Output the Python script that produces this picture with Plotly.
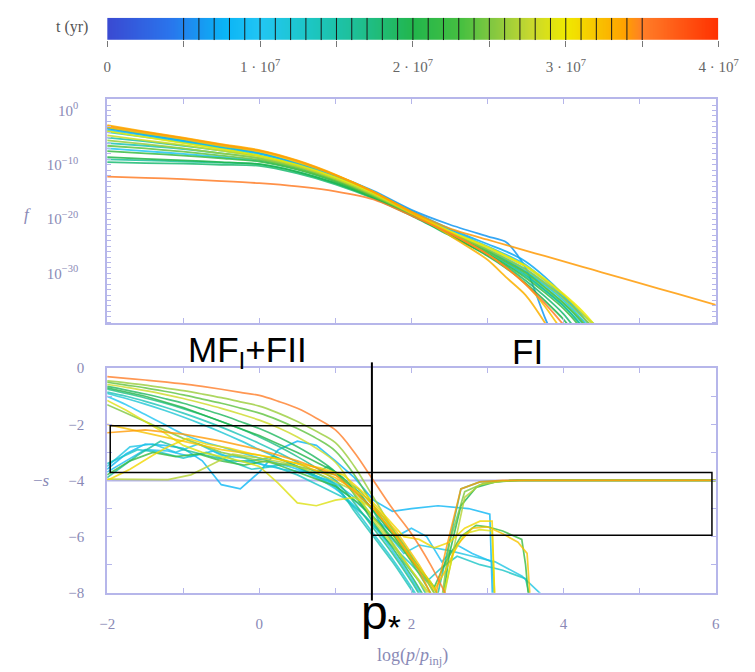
import numpy as np
import plotly.graph_objects as go
from plotly.colors import sample_colorscale

W, H = 755, 672

# ---------------------------------------------------------------- data
# snapshot times (Myr) marked on the time colour bar
SNAPSHOT_MYR = [5, 6, 7, 8, 9, 10, 11, 12, 13, 14, 15, 16, 17, 18, 19, 20,
                21, 22, 23, 24, 25, 26, 27, 28, 29, 30, 31, 32, 33, 34, 35]
T_MAX_MYR = 40
CBAR_TICKS_MYR = [0, 5, 10, 15, 20, 25, 30, 35, 40]
CBAR_LABELS = ["0", "", "1 · 10<sup>7</sup>", "", "2 · 10<sup>7</sup>", "",
               "3 · 10<sup>7</sup>", "", "4 · 10<sup>7</sup>"]

# distribution function: log10 f on a common momentum grid log(p/p_inj)
F_X = [-2, -1.5, -1, -0.5, 0, 0.5, 1, 1.5, 2, 2.5, 3, 3.25, 3.5, 3.75, 4, 4.25, 4.5, 5, 5.5, 6]
F_T = [6, 7, 9, 10, 12, 14, 15, 16, 18, 20, 22, 24, 26, 28, 30, 32, 33, 34, 35]
F_LOG = [
    [-3.3, -4.5, -5.6, -6.7, -7.9, -9.8, -12.0, -14.8, -18.3, -21.0, -23.2, -24.3, -29.0, -38.0, -46, None, None, None, None, None],
    [-3.2, -4.3, -5.4, -6.6, -7.8, -9.7, -12.0, -15.0, -18.5, -21.8, -24.6, -26.0, -27.8, -30.6, -34.0, -38.0, -42, None, None, None],
    [-3.6, -4.6, -5.7, -6.8, -8.0, -9.9, -12.2, -15.2, -18.8, -22.0, -25.0, -26.6, -28.4, -31.2, -34.4, -37.5, -40.5, None, None, None],
    [-7.0, -7.5, -8.0, -8.6, -9.3, -10.8, -13.0, -15.8, -19.1, -22.5, -25.6, -27.3, -29.2, -31.7, -34.5, -38.0, -42, None, None, None],
    [-4.0, -4.9, -5.9, -7.0, -8.3, -10.2, -12.6, -15.5, -19.0, -22.5, -25.8, -27.6, -29.6, -32.1, -35.0, -38.6, -43, None, None, None],
    [-6.0, -6.5, -7.1, -7.9, -8.8, -10.5, -12.8, -15.7, -19.1, -22.8, -26.3, -28.3, -30.5, -33.1, -36.0, -39.8, -45, None, None, None],
    [-5.0, -5.7, -6.5, -7.4, -8.4, -10.2, -12.6, -15.5, -18.9, -22.4, -25.8, -27.7, -29.8, -32.5, -35.5, -39.2, -44, None, None, None],
    [-9.0, -9.2, -9.4, -9.6, -9.9, -11.3, -13.4, -16.0, -19.2, -22.7, -26.0, -28.0, -30.2, -33.0, -36.0, -40.0, -45, None, None, None],
    [-9.5, -9.7, -9.8, -10.0, -10.2, -11.6, -13.6, -16.2, -19.4, -23.0, -26.6, -28.8, -31.3, -34.2, -37.5, -42, None, None, None, None],
    [-8.6, -8.9, -9.2, -9.5, -9.9, -11.3, -13.4, -16.1, -19.3, -22.9, -26.8, -29.1, -31.8, -35.0, -38.5, -43, None, None, None, None],
    [-7.5, -7.9, -8.3, -8.8, -9.4, -10.9, -13.1, -15.9, -19.2, -22.8, -26.4, -28.5, -30.8, -33.5, -36.5, -40.5, -46, None, None, None],
    [-6.5, -7.0, -7.6, -8.3, -9.1, -10.7, -12.9, -15.8, -19.1, -22.6, -26.0, -27.9, -29.9, -32.6, -35.5, -39.0, -44, None, None, None],
    [-5.5, -6.2, -7.0, -7.9, -8.8, -10.4, -12.7, -15.6, -19.0, -22.5, -25.6, -27.4, -29.3, -31.8, -34.6, -38.0, -42, None, None, None],
    [-4.6, -5.5, -6.4, -7.4, -8.5, -10.2, -12.5, -15.4, -18.9, -22.3, -25.3, -27.0, -28.8, -31.3, -34.0, -37.4, -41.5, None, None, None],
    [-3.8, -4.9, -6.0, -7.1, -8.3, -10.0, -12.3, -15.2, -18.8, -22.2, -25.1, -26.8, -28.6, -31.0, -33.8, -37.0, -41, None, None, None],
    [-3.1, -4.2, -5.3, -6.5, -7.6, -9.5, -11.9, -15.0, -18.7, -22.5, -26.5, -29.0, -32.0, -36.0, -41.0, -46, None, None, None, None],
    [-2.7, -3.9, -5.0, -6.2, -7.3, -9.2, -11.8, -15.0, -18.9, -23.0, -27.5, -30.8, -34.0, -39.0, -45, None, None, None, None, None],
    [-2.9, -4.0, -5.1, -6.3, -7.4, -9.3, -11.9, -15.0, -18.6, -21.7, -23.8, -24.8, -25.8, -26.8, -27.8, -28.8, -29.8, -31.8, -33.8, -35.8],
    [-12.2, -12.4, -12.65, -13.0, -13.4, -14.0, -14.9, -16.4, -19.4, -22.6, -26.5, -29.0, -32.0, -35.5, -39.5, -44, None, None, None, None],
]

# local slope -s, smoothly varying snapshots on a common grid
S_X = [-2, -1.75, -1.5, -1.25, -1, -0.75, -0.5, -0.25, 0, 0.25, 0.5, 0.75, 1, 1.25, 1.5, 1.75, 2, 2.25, 2.5, 2.75]
S_T = [10, 12, 14, 17, 19, 24, 26, 28, 35]
S_VAL = [
    [-1.0, -1.3, -1.65, -2.0, -2.35, -2.6, -2.8, -3.0, -3.2, -3.4, -3.6, -3.9, -4.3, -4.9, -5.6, -6.5, -7.5, -8.6, None, None],
    [-0.9, -1.08, -1.28, -1.5, -1.74, -2.0, -2.28, -2.58, -2.9, -3.2, -3.5, -3.85, -4.25, -5.0, -5.9, -6.8, -7.8, -8.9, None, None],
    [-0.85, -1.0, -1.18, -1.38, -1.6, -1.84, -2.1, -2.38, -2.68, -3.0, -3.35, -3.72, -4.15, -5.1, -6.0, -6.9, -7.9, -8.9, None, None],
    [-0.75, -0.9, -1.06, -1.24, -1.44, -1.66, -1.9, -2.16, -2.45, -2.78, -3.15, -3.55, -4.0, -4.8, -5.7, -6.6, -7.6, -8.7, -9.6, None],
    [-0.65, -0.78, -0.92, -1.08, -1.25, -1.45, -1.66, -1.9, -2.15, -2.45, -2.8, -3.2, -3.7, -4.5, -5.5, -6.4, -7.4, -8.5, -9.5, None],
    [-0.5, -0.6, -0.7, -0.82, -0.95, -1.1, -1.25, -1.42, -1.6, -1.85, -2.15, -2.5, -2.95, -3.8, -4.9, -5.9, -6.9, -8.0, -9.2, None],
    [-0.45, -0.52, -0.6, -0.7, -0.8, -0.92, -1.05, -1.2, -1.35, -1.6, -1.9, -2.25, -2.65, -3.5, -4.6, -5.7, -6.7, -7.8, -9.0, None],
    [-0.58, -0.68, -0.8, -0.93, -1.08, -1.25, -1.43, -1.63, -1.85, -2.12, -2.45, -2.85, -3.35, -4.3, -5.4, -6.3, -7.2, -8.2, -9.3, None],
    [-0.3, -0.36, -0.42, -0.49, -0.56, -0.65, -0.75, -0.86, -0.97, -1.18, -1.43, -1.78, -2.2, -3.0, -4.0, -5.0, -5.9, -7.0, -8.3, -9.5],
]

# local slope -s, noisy snapshots (each with its own sampling)
N_T = [8, 9, 11, 13, 16, 20, 22, 25, 27, 29, 31, 32, 34]
N_X = [
    [-2, -1.75, -1.5, -1.25, -1, -0.75, -0.5, -0.25, 0, 0.25, 0.5, 0.75, 1, 1.25, 1.5, 1.75, 2, 2.35, 2.75, 3.03, 3.07],
    [-2, -1.75, -1.5, -1.2, -0.9, -0.6, -0.3, 0, 0.3, 0.6, 0.9, 1.2, 1.5, 1.8, 2.0, 2.2, 2.4, 2.6, 2.8, 3.06, 3.1],
    [-2, -1.7, -1.4, -1.1, -0.8, -0.5, -0.2, 0.1, 0.4, 0.7, 1.0, 1.3, 1.6, 1.9, 2.1, 2.3, 2.5, 2.8, 3.1, 3.45, 3.8],
    [-2, -1.6, -1.3, -1.0, -0.7, -0.4, -0.1, 0.2, 0.5, 0.8, 1.1, 1.4, 1.7, 2.0, 2.2, 2.4, 2.6, 2.9, 3.2, 3.5, 3.6],
    [-2, -1.6, -1.3, -1.0, -0.7, -0.4, -0.1, 0.2, 0.5, 0.7, 0.9, 1.1, 1.3, 1.5, 1.7, 1.9, 2.1, 2.3, 2.45, 2.65, 2.9, 3.3, 4.0, 6.0],
    [-2, -1.5, -1.0, -0.5, 0, 0.5, 1.0, 1.3, 1.6, 1.9, 2.1, 2.3, 2.4, 2.5, 2.65, 2.85, 3.1, 3.4, 6.0],
    [-2, -1.7, -1.4, -1.1, -0.8, -0.5, -0.2, 0.1, 0.4, 0.7, 1.0, 1.3, 1.6, 1.9, 2.1, 2.3, 2.45, 2.65, 2.85, 3.0, 3.2, 3.45, 3.5, 3.55],
    [-2, -1.5, -1, -0.5, 0, 0.5, 1, 1.3, 1.6, 1.9, 2.1, 2.3, 2.38, 2.5, 2.7, 2.95, 3.3, 6.0],
    [-2, -1.5, -1.2, -0.9, -0.68, -0.35, 0, 0.3, 0.6, 0.9, 1.2, 1.5, 1.8, 2.0, 2.2, 2.4, 2.55, 2.7, 2.9, 3.2, 3.5, 4.0, 6.0],
    [-2, -1.75, -1.5, -1.25, -1, -0.75, -0.5, -0.25, 0, 0.25, 0.5, 0.75, 1, 1.25, 1.5, 1.75, 2, 2.25, 2.4, 2.55, 2.7, 2.9, 3.06, 3.1],
    [-2, -1.7, -1.4, -1.2, -0.95, -0.7, -0.4, -0.1, 0.2, 0.5, 0.8, 1.1, 1.4, 1.7, 1.9, 2.1, 2.3, 2.5, 2.7, 2.9, 3.06, 3.1],
    [-2, -1.5, -1.0, -0.5, 0, 0.5, 1.0, 1.4, 1.8, 2.1, 2.3, 2.45, 2.6, 2.8, 3.0, 3.2, 3.4, 3.52, 3.57],
    [-2, -1.5, -1, -0.5, 0, 0.5, 1.0, 1.5, 1.8, 2.1, 2.3, 2.45, 2.65, 2.9, 3.2, 6.0],
]
N_VAL = [
    [-3.6, -3.05, -2.7, -2.75, -2.85, -3.3, -4.15, -4.3, -3.7, -2.9, -2.6, -2.75, -3.3, -3.9, -4.7, -5.1, -5.0, -4.9, -5.0, -5.2, -8.6],
    [-3.7, -3.3, -2.9, -2.95, -3.15, -2.95, -3.3, -3.4, -3.6, -3.7, -4.0, -4.6, -5.3, -6.0, -5.7, -6.0, -6.9, -6.3, -6.6, -6.9, -8.6],
    [-3.5, -2.8, -2.7, -3.0, -2.7, -3.1, -3.2, -3.5, -3.4, -3.8, -4.1, -4.7, -5.6, -6.6, -6.3, -6.4, -6.5, -6.7, -6.9, -7.4, -8.3],
    [-3.4, -2.9, -3.0, -3.2, -3.0, -3.3, -3.6, -3.5, -3.8, -4.2, -4.6, -5.3, -6.2, -7.0, -7.6, -7.1, -6.7, -7.0, -7.2, -7.5, -8.6],
    [-3.9, -3.1, -2.6, -2.9, -3.1, -3.3, -3.3, -3.15, -3.5, -3.8, -3.5, -3.9, -4.5, -5.1, -6.0, -6.9, -7.6, -8.6, -6.8, -4.3, -4.05, -4.0, -4.0, -4.0],
    [-0.7, -1.0, -1.4, -1.9, -2.4, -3.0, -3.7, -4.4, -5.4, -6.4, -7.1, -7.8, -8.5, -6.6, -4.9, -4.25, -4.05, -4.0, -4.0],
    [-3.8, -3.3, -3.0, -3.15, -3.05, -3.3, -3.45, -3.3, -3.6, -3.9, -4.2, -4.8, -5.6, -6.5, -7.2, -7.8, -6.9, -6.0, -5.6, -5.65, -5.8, -6.1, -7.0, -8.5],
    [-1.3, -1.9, -2.5, -3.0, -3.3, -3.5, -3.8, -4.3, -5.2, -6.3, -7.1, -8.0, -8.6, -6.2, -4.4, -4.1, -4.0, -4.0],
    [-3.95, -3.96, -3.97, -3.8, -3.5, -3.06, -3.2, -3.35, -3.6, -3.9, -4.3, -5.3, -6.4, -7.2, -7.9, -8.5, -6.5, -4.6, -4.15, -4.02, -4.0, -4.0, -4.0],
    [-1.15, -1.5, -1.9, -2.3, -2.75, -3.0, -3.15, -3.3, -3.5, -4.1, -4.8, -4.9, -4.7, -4.6, -5.0, -5.8, -6.8, -7.6, -8.3, -6.6, -5.9, -5.75, -5.8, -8.6],
    [-4.0, -3.6, -3.1, -2.8, -2.5, -2.7, -2.85, -3.05, -3.2, -3.4, -3.55, -3.8, -4.5, -5.4, -6.0, -6.1, -6.4, -6.2, -5.7, -5.45, -5.45, -8.6],
    [-2.0, -2.3, -2.6, -2.9, -3.1, -3.4, -3.9, -4.6, -5.8, -7.0, -7.9, -7.2, -6.3, -5.7, -5.65, -5.9, -6.2, -6.6, -8.6],
    [-2.3, -2.2, -2.35, -2.6, -2.9, -3.3, -3.8, -5.0, -6.0, -7.2, -8.3, -6.5, -4.3, -4.05, -4.0, -4.0],
]

# -s = -4 reference slope
REF_SLOPE = -4

# ---------------------------------------------------------------- style
TIME_SCALE = [
    [0.00, "#3a4ad2"], [0.10, "#2a74ec"], [0.19, "#0ab4f6"], [0.25, "#22c6f4"],
    [0.33, "#1cc6c4"], [0.40, "#1ec09a"], [0.50, "#22b64c"], [0.58, "#48c040"],
    [0.63, "#84c840"], [0.69, "#c6d830"], [0.75, "#f0ea00"], [0.80, "#f8c400"],
    [0.845, "#ffa200"], [0.875, "#ff7e28"], [1.00, "#ff3000"],
]
AXIS = "#b6b6ea"
TICKTXT = "#8a8ab6"
SERIF = "Liberation Serif, DejaVu Serif, serif"
SANS = "Liberation Sans, Arial, sans-serif"


def tcolor(t_myr):
    return sample_colorscale(TIME_SCALE, [t_myr / T_MAX_MYR])[0]


fig = go.Figure()

# time colour bar (gradient plus snapshot markers)
n_cells = 400
dx = T_MAX_MYR * 1e6 / n_cells
grad = np.linspace(dx / 2, T_MAX_MYR * 1e6 - dx / 2, n_cells)
fig.add_trace(go.Heatmap(
    x=grad, y=[0.5], z=[grad / 1e6], colorscale=TIME_SCALE, zmin=0, zmax=T_MAX_MYR,
    showscale=False, xaxis="x3", yaxis="y3", hoverinfo="skip", zsmooth="best"))
mx, my = [], []
for t in SNAPSHOT_MYR:
    mx += [t * 1e6, t * 1e6, None]
    my += [0, 1, None]
fig.add_trace(go.Scatter(x=mx, y=my, mode="lines", line=dict(color="#1a1a1a", width=1),
                         xaxis="x3", yaxis="y3", hoverinfo="skip"))

# upper panel: f(p)
for t, vals in zip(F_T, F_LOG):
    fig.add_trace(go.Scatter(
        x=F_X, y=[None if v is None else 10.0 ** v for v in vals], mode="lines",
        line=dict(color=tcolor(t), width=1.8, shape="spline", smoothing=0.7),
        opacity=0.85, xaxis="x", yaxis="y", hoverinfo="skip"))

# lower panel: -s(p)
fig.add_trace(go.Scatter(x=[-2, 6], y=[REF_SLOPE, REF_SLOPE], mode="lines",
                         line=dict(color=AXIS, width=2), xaxis="x2", yaxis="y2",
                         hoverinfo="skip"))
curves = [(t, S_X, v, "spline") for t, v in zip(S_T, S_VAL)]
curves += [(t, x, v, "linear") for t, x, v in zip(N_T, N_X, N_VAL)]
curves.sort(key=lambda c: c[0])
for t, xs, vs, shp in curves:
    fig.add_trace(go.Scatter(
        x=xs, y=vs, mode="lines",
        line=dict(color=tcolor(t), width=1.7, shape=shp),
        opacity=0.8, xaxis="x2", yaxis="y2", hoverinfo="skip"))

# ---------------------------------------------------------------- axes
xdom = [103 / W, 735 / W]
top_dom = [1 - 323 / H, 1 - 93 / H]
bot_dom = [1 - 599 / H, 1 - 369 / H]
cb_dom = [1 - 33 / H, 1 - 10 / H]

common = dict(showline=True, linecolor=AXIS, linewidth=2, mirror="ticks",
              ticks="inside", tickcolor=AXIS, tickwidth=1, showgrid=False,
              zeroline=False, tickfont=dict(family=SERIF, size=15, color=TICKTXT))

xticks = [-2, -1, 0, 1, 2, 3, 4, 5, 6]
xtext = ["\u22122", "", "0", "", "2", "", "4", "", "6"]
decades = list(range(2, -40, -1))
ytext_top = [("10<sup>%s</sup>" % (str(d).replace("-", "\u2212")) if d % 10 == 0 else "")
             for d in decades]

fig.update_layout(
    width=W, height=H, margin=dict(l=0, r=0, t=0, b=0),
    paper_bgcolor="white", plot_bgcolor="white", showlegend=False,
    xaxis=dict(domain=xdom, range=[-2, 6], anchor="y", tickvals=xticks,
               showticklabels=False, ticklen=5, **common),
    yaxis=dict(domain=top_dom, type="log", range=[-39.2, 2.15], anchor="x",
               tickmode="array", tickvals=[10.0 ** d for d in decades], ticktext=ytext_top,
               ticklen=4, ticklabelstandoff=24, **common),
    xaxis2=dict(domain=xdom, range=[-2, 6], anchor="y2", tickvals=xticks, ticktext=xtext,
                ticklen=5, ticklabelstandoff=16, **common),
    yaxis2=dict(domain=bot_dom, range=[-8, 0], anchor="x2",
                tickvals=[-8, -7, -6, -5, -4, -3, -2, -1, 0],
                ticktext=["\u22128", "", "\u22126", "", "\u22124", "", "\u22122", "", "0"],
                ticklen=5, ticklabelstandoff=18, **common),
    xaxis3=dict(domain=[103 / W, 738 / W], range=[0, T_MAX_MYR * 1e6], anchor="y3",
                tickvals=[v * 1e6 for v in CBAR_TICKS_MYR], ticktext=CBAR_LABELS,
                ticks="outside", ticklen=6, tickcolor="#777777", showline=False,
                showgrid=False, zeroline=False, ticklabelstandoff=7,
                tickfont=dict(family=SERIF, size=15, color="#666666")),
    yaxis3=dict(domain=cb_dom, range=[0, 1], anchor="x3", visible=False),
)

# ---------------------------------------------------------------- labels
ann = [
    dict(text="t (yr)", x=66 / W, y=1 - 19 / H, font=dict(family=SERIF, size=16, color="#555555")),
    dict(text="<i>f</i>", x=20 / W, y=1 - 212 / H, font=dict(family=SERIF, size=17, color=TICKTXT)),
    dict(text="\u2212<i>s</i>", x=35 / W, y=1 - 484 / H, font=dict(family=SERIF, size=17, color=TICKTXT)),
    dict(text="log(<i>p</i>/<i>p</i><sub>inj</sub>)", x=420 / W, y=1 - 664 / H,
         font=dict(family=SERIF, size=18, color=TICKTXT)),
    dict(text="MF<sub>I</sub>+FII", x=249 / W, y=1 - 352 / H, font=dict(family=SANS, size=35, color="black")),
    dict(text="FI", x=539 / W, y=1 - 352 / H, font=dict(family=SANS, size=35, color="black")),
    dict(text="p<sub>*</sub>", x=387 / W, y=1 - 623 / H, font=dict(family=SANS, size=48, color="black")),
]
for a in ann:
    fig.add_annotation(xref="paper", yref="paper", showarrow=False,
                       xanchor="center", yanchor="middle", **a)

# momentum split at p_* and the two fitting windows
P_STAR = 1.48
fig.add_shape(type="line", xref="x2", yref="paper", x0=P_STAR, x1=P_STAR,
              y0=1 - 607 / H, y1=1 - 363 / H, line=dict(color="black", width=2))
fig.add_shape(type="rect", xref="x2", yref="y2", x0=-1.96, x1=P_STAR, y0=-3.72, y1=-2.05,
              line=dict(color="black", width=1.5))
fig.add_shape(type="rect", xref="x2", yref="y2", x0=P_STAR, x1=5.95, y0=-5.95, y1=-3.72,
              line=dict(color="black", width=1.5))

fig.write_html("out.html")
